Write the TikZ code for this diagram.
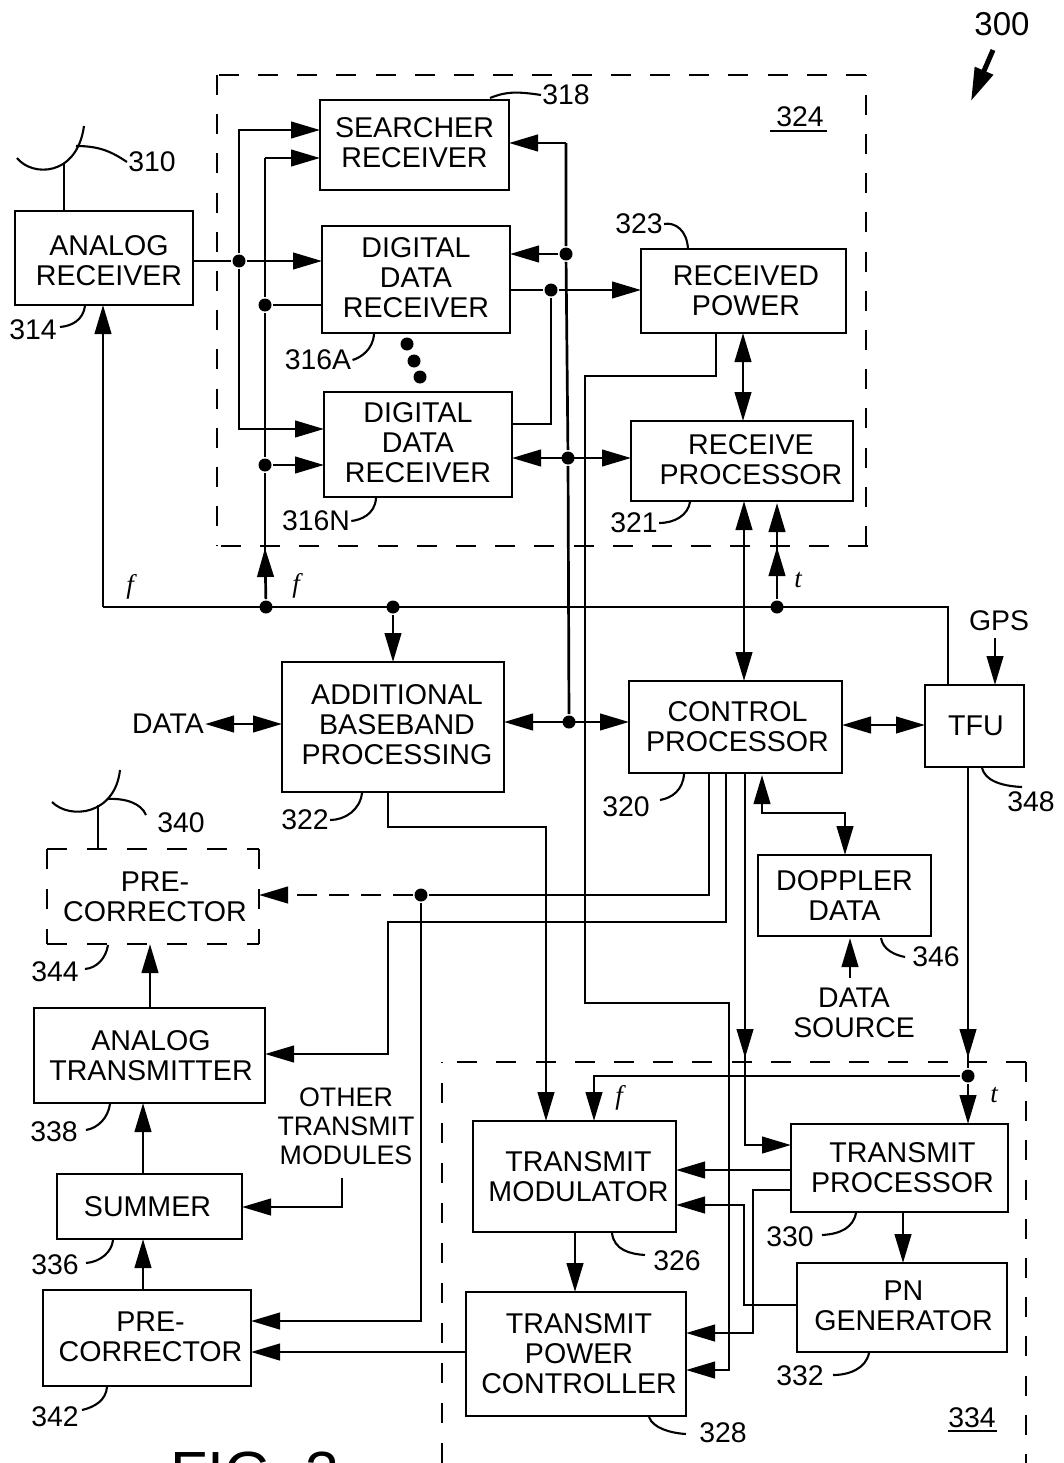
\documentclass[tikz,border=0pt]{standalone}
\usepackage{fontspec}
\setmainfont{Liberation Sans}
\newfontfamily\itserif[ItalicFont=Liberation Serif Italic]{Liberation Serif}
\usetikzlibrary{arrows.meta}
\newcommand\dnrule[1]{\rule[-#1]{0pt}{#1}}
\tikzset{
  x=1pt,y=-1pt,
  boxn/.style 2 args={draw,line width=2.8pt,minimum width=#1,minimum height=#2,inner sep=0pt,outer sep=0pt,align=center,font=\fontsize{28.6}{30}\selectfont},
  dot/.style={circle,fill=black,draw=none,inner sep=0pt,minimum size=13pt},
  smalldot/.style={circle,fill=black,draw=none,inner sep=0pt,minimum size=13pt},
  lbl/.style={inner sep=0pt,align=center,font=\fontsize{28.4}{29.5}\selectfont},
  ital/.style={inner sep=0pt,font=\fontsize{27}{27}\itserif\itshape},
  arr/.style={-{Triangle[length=29pt,width=16.5pt]}},
  darr/.style={{Triangle[length=29pt,width=16.5pt]}-{Triangle[length=29pt,width=16.5pt]}},
  lead/.style={line width=2.1pt},
  dashline/.style={line width=2.8pt,dash pattern=on 20pt off 19.2pt},
  dashbox/.style={line width=2.8pt,dash pattern=on 20pt off 20pt},
}
\begin{document}
\begin{tikzpicture}[line width=2.7pt]
\useasboundingbox (0,0) rectangle (1064,1463);
\clip (0,0) rectangle (1064,1463);
\fill[white] (0,0) rectangle (1064,1463);

% dashed groups
\draw[dashline] (217,75) -- (217,546);
\draw[dashline] (866,75) -- (217,75);
\draw[dashline] (866,546) -- (866,75);
\draw[dashline] (868,546) -- (217,546);
\draw[dashline] (1026,1062) -- (442,1062);
\draw[dashline] (1026,1062) -- (1026,1463);
\draw[dashbox] (442,1463) -- (442,1062);

% boxes
\node[boxn={189pt}{90pt}] (searcher) at (414.5,145) {SEARCHER\\RECEIVER\dnrule{4pt}};
\node[boxn={188pt}{107pt}] (ddra) at (416,279.5) {DIGITAL\\DATA\\RECEIVER\dnrule{4pt}};
\node[boxn={188pt}{105pt}] (ddrn) at (418,444.5) {DIGITAL\\DATA\\RECEIVER\dnrule{4pt}};
\node[boxn={205pt}{84pt}] (rpower) at (743.5,291) {\hspace*{5pt}RECEIVED\\\hspace*{5pt}POWER};
\node[boxn={222pt}{80pt}] (rproc) at (742,461) {\hspace*{18pt}RECEIVE\\\hspace*{18pt}PROCESSOR\dnrule{2pt}};
\node[boxn={178pt}{94pt}] (arx) at (104,258) {\rule{0pt}{25pt}\hspace*{10pt}ANALOG\\\hspace*{10pt}RECEIVER};
\node[boxn={222pt}{130pt}] (addl) at (393,727) {\hspace*{8pt}ADDITIONAL\\\hspace*{8pt}BASEBAND\\\hspace*{8pt}PROCESSING\dnrule{4pt}};
\node[boxn={213pt}{92pt}] (ctrl) at (735.5,727) {\hspace*{4pt}CONTROL\\\hspace*{4pt}PROCESSOR};
\node[boxn={99pt}{82pt}] (tfu) at (974.5,726) {\hspace*{3pt}TFU};
\node[boxn={173pt}{81pt}] (doppler) at (844.5,895.5) {DOPPLER\\DATA};
\node[boxn={212pt}{95pt},draw=none] (pretop) at (153,896.5) {\hspace*{4pt}PRE-\\\hspace*{4pt}CORRECTOR};
\draw[dashbox] (47,849) -- (259,849);
\draw[dashbox] (47,849) -- (47,944);
\draw[dashbox] (259,849) -- (259,944);
\draw[dashbox] (47,944) -- (259,944);
\node[boxn={231pt}{95pt}] (atx) at (149.5,1055.5) {\hspace*{3pt}ANALOG\\\hspace*{3pt}TRANSMITTER};
\node[boxn={185pt}{65pt}] (summer) at (149.5,1206.5) {SUMMER\hspace*{4pt}};
\node[boxn={208pt}{96pt}] (prebot) at (147,1338) {\hspace*{7pt}PRE-\\\hspace*{7pt}CORRECTOR\dnrule{2pt}};
\node[boxn={203pt}{111pt}] (tmod) at (574.5,1176.5) {\hspace*{8pt}TRANSMIT\\\hspace*{8pt}MODULATOR};
\node[boxn={220pt}{124pt}] (tpc) at (576,1354) {\hspace*{6pt}TRANSMIT\\\hspace*{6pt}POWER\\\hspace*{6pt}CONTROLLER};
\node[boxn={217pt}{88pt}] (tproc) at (899.5,1168) {\hspace*{6pt}TRANSMIT\\\hspace*{6pt}PROCESSOR};
\node[boxn={210pt}{89pt}] (pn) at (902,1307.5) {\hspace*{3pt}PN\\\hspace*{3pt}GENERATOR\dnrule{4pt}};

% junctions
\node[dot] (ja) at (239,261) {};
\node[dot] (jb) at (265,305) {};
\node[dot] (jc) at (265,465) {};
\node[dot] (jd) at (566,254) {};
\node[dot] (je) at (551,290) {};
\node[dot] (jf) at (568,458) {};
\node[dot] (jg) at (266,607) {};
\node[dot] (jh) at (393,607) {};
\node[dot] (ji) at (777,607) {};
\node[dot] (jj) at (569,722) {};
\node[dot] (jk) at (421,895) {};
\node[dot] (jl) at (968,1076) {};
\coordinate (fl) at (103,607);
\node[smalldot] (d1) at (407,344) {};
\node[smalldot] (d2) at (414,361) {};
\node[smalldot] (d3) at (420,377) {};

% receivers
\draw[arr] (arx.east |- ja) -- (ja) -- (ddra.west |- ja);
\draw[arr] (ja) -- (239,130) -- (searcher.west |- 0,130);
\draw[arr] (ja) -- (239,429) -- (ddrn.west |- 0,429);
\draw[arr] (jg) -- (265,548);
\draw (265,560) -- (jc) -- (jb) -- (265,158);
\draw[arr] (265,158) -- (searcher.west |- 0,158);
\draw (jb) -- (ddra.west |- jb);
\draw[arr] (jc) -- (ddrn.west |- jc);
\draw[arr] (jd) -- (ddra.east |- jd);
\draw[arr] (566,143) -- (searcher.east |- 0,143);
\draw (566,143) -- (jd) -- (jf) -- (jj);
\draw (ddra.east |- je) -- (je);
\draw[arr] (je) -- (rpower.west |- je);
\draw (je) -- (551,424) -- (ddrn.east |- 0,424);
\draw[darr] (ddrn.east |- jf) -- (rproc.west |- jf);
\draw[darr] (743,333) -- (743,421);
\draw[darr] (744,501) -- (744,681);
\draw[arr] (ji) -- (777,547);
\draw[arr] (777,560) -- (777,503);

% f bus
\draw (fl) -- (948,607) -- (948,685);
\draw[arr] (fl) -- (fl |- arx.south);
\draw[arr] (jh) -- (393,662);
\coordinate (gpsb) at (995,638);
\draw[arr] (gpsb) -- (gpsb |- tfu.north);

% baseband
\node[lbl] (data) at (168,724) {DATA};
\draw[darr] (data.east) -- (addl.west |- data);
\draw[darr] (addl.east |- jj) -- (ctrl.west |- jj);
\draw[darr] (ctrl.east |- 0,725) -- (tfu.west |- 0,725);

% received power return to transmit power controller
\draw[arr] (716,333) -- (716,376) -- (585,376) -- (585,1003) -- (729,1003) -- (729,1370) -- (tpc.east |- 0,1370);

% control outputs
\draw (709,773) -- (709,895) -- (jk);
\draw[arr,dash pattern=on 20pt off 12pt] (jk) -- (pretop.east |- jk);
\draw[arr] (jk) -- (421,1321) -- (prebot.east |- 0,1321);
\draw[arr] (726,773) -- (726,922) -- (388,922) -- (388,1054) -- (atx.east |- 0,1054);
\draw[arr] (745,773) -- (745,1058);
\draw[arr] (745,1040) -- (745,1145) -- (tproc.west |- 0,1145);
\draw[darr] (762,775) -- (762,813) -- (845,813) -- (845,855);
\node[lbl] (dsrc) at (854,1013) {DATA\\SOURCE};
\draw[arr] (850,978) -- (850,938);

% TFU
\draw[arr] (968,767) -- (968,1058);
\draw (968,1040) -- (jl);
\draw[arr] (jl) -- (tproc.north -| jl);
\draw[arr] (jl) -- (594,1076) -- (594,1121);

% baseband to modulator
\draw[arr] (388,792) -- (388,827) -- (546,827) -- (546,1121);

% transmit block
\draw[arr] (tproc.west |- 0,1170) -- (tmod.east |- 0,1170);
\draw[arr] (tproc.west |- 0,1190) -- (753,1190) -- (753,1333) -- (tpc.east |- 0,1333);
\draw[arr] (pn.west |- 0,1305) -- (744,1305) -- (744,1205) -- (tmod.east |- 0,1205);
\draw[arr] (903,1212) -- (903,1263);
\draw[arr] (575,1232) -- (575,1292);
\draw[arr] (tpc.west |- 0,1352) -- (prebot.east |- 0,1352);

% left chain
\draw[arr] (143,1290) -- (143,1239);
\draw[arr] (143,1174) -- (143,1103);
\draw[arr] (150,1008) -- (150,944);
\node[lbl,font=\fontsize{26.8}{29}\selectfont] (other) at (346,1126) {OTHER\\TRANSMIT\\MODULES};
\draw[arr] (342,1178) -- (342,1207) -- (summer.east |- 0,1207);

% antennas
\draw (64,211) -- (64,163);
\draw[lead] (17,158) .. controls (32,177) and (77,177) .. (84,126);
\draw (98,849) -- (98,805);
\draw[lead] (52,802) .. controls (70,820) and (115,815) .. (120,770);

% labels
\node[lbl,font=\fontsize{33}{33}\selectfont] (n300) at (1002,24) {300};
\node[lbl] (n318) at (566,95) {318};
\node[lbl] (n324) at (800,117) {324};
\draw[lead] (770,131) -- (827,131);
\node[lbl] (n310) at (152,162) {310};
\node[lbl] (n323) at (639,224) {323};
\node[lbl] (n314) at (33,330) {314};
\node[lbl] (n316a) at (318,360) {316A};
\node[lbl] (n316n) at (316,521) {316N};
\node[lbl] (n321) at (634,523) {321};
\node[lbl] (gps) at (999,621) {GPS};
\node[lbl] (n322) at (305,820) {322};
\node[lbl] (n320) at (626,807) {320};
\node[lbl] (n348) at (1031,802) {348};
\node[lbl] (n340) at (181,823) {340};
\node[lbl] (n344) at (55,972) {344};
\node[lbl] (n346) at (936,957) {346};
\node[lbl] (n338) at (54,1132) {338};
\node[lbl] (n336) at (55,1265) {336};
\node[lbl] (n330) at (790,1237) {330};
\node[lbl] (n326) at (677,1261) {326};
\node[lbl] (n332) at (800,1376) {332};
\node[lbl] (n342) at (55,1417) {342};
\node[lbl] (n328) at (723,1433) {328};
\node[lbl] (n334) at (972,1418) {334};
\draw[lead] (948,1431) -- (997,1431);
\node[ital] (f1) at (130,587) {f};
\node[ital] (f2) at (296,586) {f};
\node[ital] (t1) at (798,580) {t};
\node[ital] (f3) at (619,1098) {f};
\node[ital] (t2) at (994,1095) {t};
\node[anchor=base west,inner sep=0pt,font=\fontsize{61}{61}\selectfont] (fig) at (169,1494) {FIG. 3};

% 300 pointer
\coordinate (p300a) at (993,50);
\coordinate (p300b) at (971,101);
\draw[line width=5pt,-{Triangle[length=33pt,width=19pt]}] (p300a) -- (p300b);

% leaders
\draw[lead] (n318.west) .. controls (515,91) and (505,92) .. (490,98);
\draw[lead] (n310.west) .. controls (112,152) and (100,146) .. (76,146);
\draw[lead] (n323.east) .. controls (675,222) and (687,230) .. (688,249);
\draw[lead] (60,327) .. controls (72,326) and (83,320) .. (85,306);
\draw[lead] (n316a.east) .. controls (360,358) and (373,350) .. (374,334);
\draw[lead] (n316n.east) .. controls (360,520) and (375,515) .. (376,498);
\draw[lead] (n321.east) .. controls (675,523) and (688,515) .. (690,502);
\draw[lead] (n322.east) .. controls (345,820) and (360,810) .. (362,793);
\draw[lead] (660,800) .. controls (672,798) and (683,790) .. (684,774);
\draw[lead] (1022,787) .. controls (1000,786) and (985,780) .. (982,768);
\draw[lead] (85,969) .. controls (97,968) and (106,958) .. (108,945);
\draw[lead] (905,957) .. controls (895,955) and (883,950) .. (881,938);
\draw[lead] (86,1130) .. controls (98,1128) and (108,1118) .. (110,1104);
\draw[lead] (86,1263) .. controls (100,1262) and (112,1252) .. (113,1240);
\draw[lead] (822,1235) .. controls (840,1234) and (853,1228) .. (856,1213);
\draw[lead] (645,1255) .. controls (630,1254) and (614,1250) .. (612,1233);
\draw[lead] (833,1375) .. controls (850,1375) and (866,1368) .. (869,1353);
\draw[lead] (82,1410) .. controls (95,1407) and (106,1400) .. (107,1387);
\draw[lead] (686,1434) .. controls (670,1433) and (653,1428) .. (649,1417);
\draw[lead] (107,799) .. controls (125,798) and (141,803) .. (146,815);
\end{tikzpicture}
\end{document}
